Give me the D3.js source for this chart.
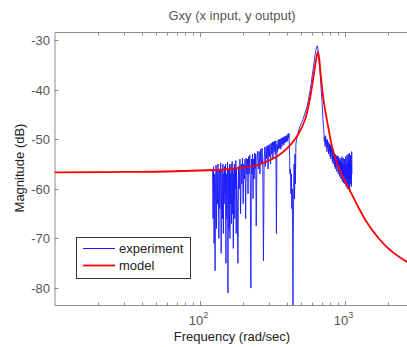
<!DOCTYPE html>
<html>
<head>
<meta charset="utf-8">
<script src="https://d3js.org/d3.v7.min.js"></script>
<style>
body { margin: 0; background: #fff; }
svg { display: block; font-family: "Liberation Sans", Arial, sans-serif; }
</style>
</head>
<body>
<div id="chart"></div>
<script>
// model curve (rad/sec, dB)
var modelFreq = [10, 30, 60, 100, 150, 200, 250, 300, 350, 400, 450, 500, 540, 580, 610, 635, 655,
	670, 690, 720, 760, 820, 900, 1000, 1100, 1250, 1450, 1700, 2000, 2400, 2800];
var modelMag = [-56.7, -56.6, -56.5, -56.3, -56.1, -55.7, -55.2, -54.3, -53.3, -51.9, -50.2, -48.0, -45.6, -41.5, -37.5, -34.2, -32.4,
	-34.0, -38.0, -42.5, -46.5, -51.5, -55.3, -58.3, -60.6, -63.8, -67.1, -69.8, -72.0, -73.8, -75.0];

// measured response (rad/sec, dB)
var expFreq = [
	123, 124, 125, 126, 127, 128, 129, 130, 131, 132,
	133, 134, 135, 136, 137, 138, 139, 140, 141, 142,
	143, 144, 145, 146, 147, 148, 149, 150, 151, 152,
	153, 154, 155, 156, 157, 158, 159, 160, 161, 162,
	163, 164, 165, 166, 167, 168, 169, 170, 171, 172,
	173, 174, 175, 176, 177, 178, 179, 180,
	182, 184, 186, 188, 190, 192, 194, 196, 198, 200,
	202, 204, 206, 208, 210, 212, 214, 216, 218, 220,
	222, 224, 226, 228, 230, 232, 234, 236, 238, 240,
	242, 244,
	246, 249, 252, 255, 258, 261, 264, 267, 270, 273,
	276, 279, 282, 285, 288, 291, 294, 297, 300, 303,
	306, 309, 312, 315, 318, 321, 324, 327, 330, 333,
	336, 339, 342, 345, 348, 351, 354, 357, 360, 363,
	366, 369, 372, 375, 378, 381, 384, 387, 390, 393,
	396, 399, 402, 405, 408, 411, 414, 417, 420,
	424, 427, 430, 433, 436, 439, 441, 443, 446, 449, 452, 455, 458,
	462, 467, 472, 478, 485, 492,
	500, 510, 520, 530, 540, 550, 560, 570, 580, 590, 600,
	610, 620, 630, 640, 650, 660, 670, 680, 690, 700, 710,
	720, 725, 730, 735, 740, 745, 750, 755, 760, 765,
	770, 775, 780, 785, 790, 795, 800, 805, 810, 815,
	820, 825, 830, 835, 840, 845, 850, 855, 860, 865,
	870, 875, 880, 885, 890, 895, 900, 905, 910, 915,
	920, 925, 930, 935, 940, 945, 950, 955, 960, 965,
	970, 975, 980, 985, 990, 995, 1000, 1005, 1010, 1015,
	1020, 1025, 1030, 1035, 1040, 1045, 1050, 1055, 1060, 1065,
	1070, 1075, 1080, 1085, 1090, 1095, 1100, 1105, 1110, 1115,
	1120, 1125];
var expMag = [
	-56, -66, -55.5, -71, -57, -76.5, -59, -55.2, -68, -56,
	-63, -55, -61, -70, -56, -64, -58, -54.8, -73, -60,
	-56, -66, -55, -69, -57, -63, -55.5, -61, -55, -75,
	-57, -66, -59, -54.6, -81, -62, -56, -68, -55, -70,
	-57, -63, -55, -67, -58, -54.5, -65, -56, -72, -57,
	-62, -55, -66, -56, -60, -54.3, -69, -56,
	-62, -75, -55.5, -60, -54, -65, -55, -59, -53.8, -63,
	-55, -58, -54, -66, -53.8, -57, -54, -61, -53.5, -57,
	-53.2, -59, -80, -54, -57, -53, -62, -54, -58, -52.8,
	-56, -53,
	-67.5, -54, -52.4, -56, -52.5, -57, -52, -55, -51.8, -56,
	-74.5, -54, -51.6, -55.5, -51.5, -54, -51.3, -56, -51.2, -53.5,
	-51, -55, -50.8, -53, -50.6, -54, -50.5, -52.5, -50.4, -53,
	-50.3, -69, -51, -52.5, -50.2, -52, -50, -51.8, -50, -52,
	-49.8, -51.5, -49.7, -51, -49.6, -51.2, -49.5, -50.8, -49.4, -50.5,
	-49.3, -50.6, -49.2, -50.3, -48.9, -49.8, -48.8, -52, -57,
	-56, -61, -57, -64, -60, -72, -83.5, -70, -60, -55, -62, -53, -59,
	-51, -50, -49.5, -48.8, -48, -47.5,
	-47, -46.5, -45.8, -45, -44.3, -43.5, -42.5, -41.3, -40, -38.6, -37,
	-35.5, -34, -32.6, -31.5, -31.2, -32.4, -35, -37, -40, -42.5, -46,
	-48.5, -50.5, -49.5, -51.5, -49.3, -51, -50.2, -52.5, -50, -51.8,
	-50.5, -53, -50.8, -52.5, -51, -53.5, -51.2, -54, -51.5, -53,
	-51.8, -54.5, -52, -55, -52.3, -54, -52.8, -55.5, -53, -56,
	-53.2, -55, -53.5, -56.5, -53.3, -55.5, -54, -57, -53.5, -56,
	-54.2, -57.5, -53.8, -56.5, -54.5, -58, -54, -57, -53.5, -58.5,
	-55, -57, -53.8, -58.8, -55, -57.5, -54, -59, -55.5, -58,
	-53.5, -59.5, -55, -58, -53.2, -60, -54.8, -58.5, -53, -59.8,
	-55, -58, -52.8, -60.5, -54, -59, -53.2, -58, -55, -59.5,
	-52.5, -57];

var yTicks = [-30, -40, -50, -60, -70, -80];
var xMajor = [100, 1000];
var xMinor = [20, 30, 40, 50, 60, 70, 80, 90, 200, 300, 400, 500, 600, 700, 800, 900, 2000];

var W = 407, H = 347;
var pLeft = 54.5, pRight = 408.5, pTop = 32, pBottom = 305;

var svg = d3.select('#chart').append('svg')
	.attr('width', W)
	.attr('height', H);

var x = d3.scaleLog().domain([10, Math.pow(10, 3.441)]).range([pLeft, pRight]);
var y = d3.scaleLinear().domain([-83.4, -28.4]).range([pBottom, pTop]);

svg.append('defs').append('clipPath').attr('id', 'clip')
	.append('rect')
	.attr('x', pLeft).attr('y', pTop)
	.attr('width', pRight - pLeft).attr('height', pBottom - pTop);

// frame: left, top and bottom (right edge falls off the picture)
var axisCol = '#8c8c8c';
svg.append('path')
	.attr('d', 'M' + pRight + ',' + (pTop + 0.5) + 'H' + (pLeft + 0.5) + 'V' + (pBottom + 0.5) + 'H' + pRight)
	.attr('fill', 'none')
	.attr('stroke', axisCol)
	.attr('stroke-width', 1);

// x ticks, inward on bottom and top
function xTick(v, len) {
	var px = Math.round(x(v)) + 0.5;
	svg.append('line').attr('x1', px).attr('x2', px)
		.attr('y1', pBottom).attr('y2', pBottom - len)
		.attr('stroke', axisCol);
	svg.append('line').attr('x1', px).attr('x2', px)
		.attr('y1', pTop + 1).attr('y2', pTop + 1 + len)
		.attr('stroke', axisCol);
}
xMinor.forEach(function (v) { xTick(v, 2.5); });
xMajor.forEach(function (v) { xTick(v, 4); });

// y ticks and labels
yTicks.forEach(function (v) {
	var py = Math.round(y(v)) + 0.5;
	svg.append('line').attr('x1', pLeft).attr('x2', pLeft + 4)
		.attr('y1', py).attr('y2', py)
		.attr('stroke', axisCol);
	svg.append('text')
		.attr('x', 50).attr('y', py + 4.5)
		.attr('text-anchor', 'end')
		.style('font-size', '13px')
		.style('fill', '#555')
		.text(v);
});

// x tick labels 10^n
xMajor.forEach(function (v) {
	var t = svg.append('text')
		.attr('x', x(v) - 1).attr('y', 325)
		.attr('text-anchor', 'middle')
		.style('font-size', '13px')
		.style('fill', '#555');
	t.append('tspan').text('10');
	t.append('tspan').attr('dy', -7).style('font-size', '9px').text(Math.round(Math.log10(v)));
});

// titles
svg.append('text')
	.attr('x', 232).attr('y', 20)
	.attr('text-anchor', 'middle')
	.style('font-size', '13px')
	.style('fill', '#555')
	.text('Gxy (x input, y output)');

svg.append('text')
	.attr('x', 232).attr('y', 341)
	.attr('text-anchor', 'middle')
	.style('font-size', '13px')
	.style('fill', '#222')
	.text('Frequency (rad/sec)');

svg.append('text')
	.attr('transform', 'translate(24,168) rotate(-90)')
	.attr('text-anchor', 'middle')
	.style('font-size', '13px')
	.style('fill', '#222')
	.text('Magnitude (dB)');

// data lines
var plot = svg.append('g').attr('clip-path', 'url(#clip)');

var line = d3.line()
	.x(function (d) { return x(d[0]); })
	.y(function (d) { return y(d[1]); });

plot.append('path')
	.datum(d3.zip(expFreq, expMag))
	.attr('d', line)
	.attr('fill', 'none')
	.attr('stroke', '#1a1aff')
	.attr('stroke-width', 0.9);

plot.append('path')
	.datum(d3.zip(modelFreq, modelMag))
	.attr('d', line.curve(d3.curveMonotoneX))
	.attr('fill', 'none')
	.attr('stroke', '#ff0000')
	.attr('stroke-width', 1.8);

// legend
var lg = svg.append('g');
lg.append('rect')
	.attr('x', 76.5).attr('y', 237.5)
	.attr('width', 114).attr('height', 41)
	.attr('fill', '#fff')
	.attr('stroke', '#333');
lg.append('line').attr('x1', 83).attr('x2', 115).attr('y1', 248.5).attr('y2', 248.5)
	.attr('stroke', '#1a1aff').attr('stroke-width', 1);
lg.append('line').attr('x1', 83).attr('x2', 115).attr('y1', 265.5).attr('y2', 265.5)
	.attr('stroke', '#ff0000').attr('stroke-width', 1.8);
lg.append('text').attr('x', 119).attr('y', 253)
	.style('font-size', '13px').style('fill', '#222').text('experiment');
lg.append('text').attr('x', 119).attr('y', 270)
	.style('font-size', '13px').style('fill', '#222').text('model');
</script>
</body>
</html>
